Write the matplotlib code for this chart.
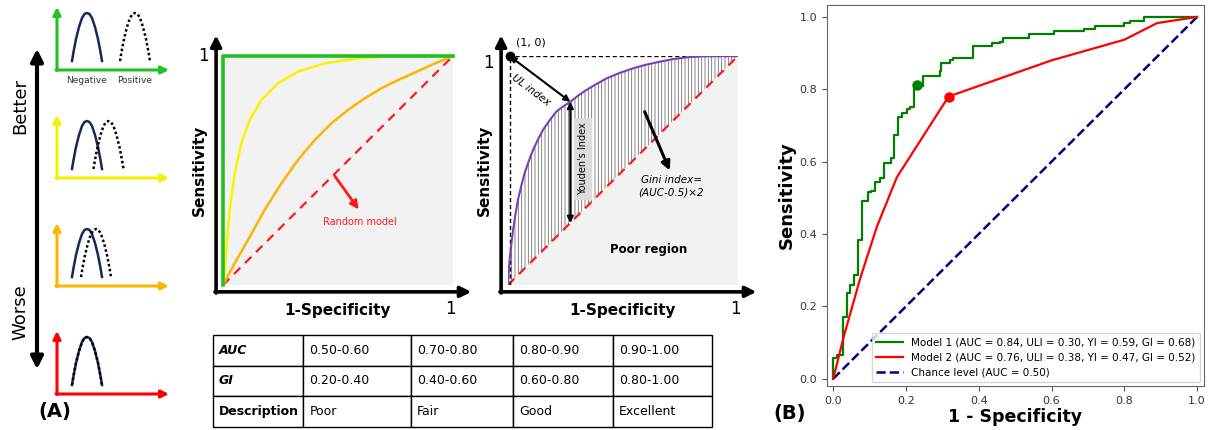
import matplotlib
matplotlib.use("Agg")
import matplotlib.pyplot as plt
from matplotlib.patches import Rectangle

# ---------------- Datos ----------------
# Panel (A): distribuciones (forma de la joroba) y centros de la clase positiva
joroba_dx = [-1.5, -1.35, -1.1, -0.8, -0.5, -0.25, 0, 0.25, 0.5, 0.8, 1.1, 1.35, 1.5]
joroba_h = [0, 0.9, 2.2, 3.4, 4.3, 4.7, 4.8, 4.7, 4.3, 3.4, 2.2, 0.9, 0]
centro_negativo = 3.0
centros_positivo = [7.8, 5.15, 3.9, 3.0]
colores_mini = ["#22c022", "#f5f000", "#ffb400", "#ff0000"]

# Panel (A): curvas ROC conceptuales
amarilla_x = [0, 0.003, 0.014, 0.029, 0.051, 0.08, 0.116, 0.167, 0.239, 0.326, 0.442, 0.587, 0.761, 1.0]
amarilla_y = [0, 0.007, 0.153, 0.328, 0.488, 0.619, 0.72, 0.808, 0.881, 0.932, 0.968, 0.99, 1.0, 1.0]
naranja_x = [0, 0.051, 0.109, 0.181, 0.254, 0.326, 0.399, 0.471, 0.543, 0.616, 0.688, 0.761, 0.833, 0.906, 1.0]
naranja_y = [0, 0.095, 0.197, 0.328, 0.444, 0.546, 0.633, 0.706, 0.764, 0.815, 0.859, 0.895, 0.927, 0.961, 1.0]
morada_x = [0, 0.003, 0.007, 0.014, 0.022, 0.032, 0.043, 0.057, 0.072, 0.09, 0.109, 0.13, 0.152,
            0.18, 0.21, 0.24, 0.271, 0.305, 0.341, 0.385, 0.428, 0.485, 0.543, 0.6, 0.659,
            0.715, 0.775, 0.83, 0.877, 1.0]
morada_y = [0, 0.055, 0.109, 0.175, 0.24, 0.306, 0.371, 0.43, 0.488, 0.54, 0.59, 0.635, 0.677,
            0.718, 0.757, 0.78, 0.80, 0.827, 0.852, 0.878, 0.902, 0.926, 0.946, 0.962, 0.975,
            0.986, 0.994, 0.998, 1.0, 1.0]
punto_youden = (0.271, 0.80)

# Tabla
tabla_filas = [
    ["AUC", "0.50-0.60", "0.70-0.80", "0.80-0.90", "0.90-1.00"],
    ["GI", "0.20-0.40", "0.40-0.60", "0.60-0.80", "0.80-1.00"],
    ["Description", "Poor", "Fair", "Good", "Excellent"],
]
tabla_anchos = [90, 108, 102, 100, 99]

# Panel (B): curvas ROC de los modelos
m1_fpr = [0, 0, 0.01, 0.028, 0.038, 0.047, 0.056, 0.067, 0.078, 0.095,
          0.105, 0.115, 0.13, 0.141, 0.16, 0.168, 0.178, 0.189, 0.202, 0.21,
          0.221, 0.228, 0.246, 0.294, 0.297, 0.32, 0.33, 0.383, 0.436, 0.459,
          0.468, 0.537, 0.607, 0.688, 0.72, 0.798, 0.816, 0.853, 1.0]
m1_tpr = [0, 0.057, 0.066, 0.172, 0.237, 0.26, 0.287, 0.384, 0.49, 0.515,
          0.52, 0.545, 0.555, 0.596, 0.61, 0.675, 0.723, 0.734, 0.746, 0.75,
          0.80, 0.81, 0.838, 0.85, 0.872, 0.882, 0.886, 0.92, 0.927, 0.932,
          0.943, 0.952, 0.96, 0.967, 0.975, 0.982, 0.99, 1.0, 1.0]
m2_fpr = [0, 0.03, 0.075, 0.12, 0.175, 0.317, 0.6, 0.8, 0.89, 1.0]
m2_tpr = [0, 0.12, 0.28, 0.42, 0.557, 0.78, 0.88, 0.937, 0.983, 1.0]
m1_optimo = (0.231, 0.812)
m2_optimo = (0.317, 0.78)
etiquetas = [
    "Model 1 (AUC = 0.84, ULI = 0.30, YI = 0.59, GI = 0.68)",
    "Model 2 (AUC = 0.76, ULI = 0.38, YI = 0.47, GI = 0.52)",
    "Chance level (AUC = 0.50)",
]

plt.rcParams["hatch.linewidth"] = 0.55

W, H = 1208, 430
fig = plt.figure(figsize=(W / 100, H / 100), dpi=100)


def rect(x0, y_top, w, h):
    # caja en pixeles -> fraccion de figura
    return [x0 / W, 1 - (y_top + h) / H, w / W, h / H]


# capa de fondo en pixeles para flechas/textos sueltos
bg = fig.add_axes([0, 0, 1, 1])
bg.set_xlim(0, W)
bg.set_ylim(H, 0)
bg.axis("off")

bg.annotate("", xy=(37, 46), xytext=(37, 372),
            arrowprops=dict(arrowstyle="<|-|>", color="black", lw=3, mutation_scale=18))
bg.text(20, 106, "Better", rotation=90, ha="center", va="center", fontsize=13)
bg.text(20, 312, "Worse", rotation=90, ha="center", va="center", fontsize=13)
bg.text(55, 412, "(A)", ha="center", va="center", fontsize=14, fontweight="bold")
bg.text(790, 414, "(B)", ha="center", va="center", fontsize=14, fontweight="bold")

# ---------------- Mini graficas de distribuciones ----------------
bases = [70, 178, 286, 394]
for base, c_pos, col in zip(bases, centros_positivo, colores_mini):
    ax = fig.add_axes(rect(57, base - 62, 112, 62))
    ax.set_xlim(0, 11.2)
    ax.set_ylim(0, 6.2)
    ax.axis("off")
    ax.annotate("", xy=(0, 6.3), xytext=(0, -0.05), annotation_clip=False,
                arrowprops=dict(arrowstyle="-|>", color=col, lw=2.2, mutation_scale=11,
                                shrinkA=0, shrinkB=0))
    ax.annotate("", xy=(11.2, 0), xytext=(-0.1, 0), annotation_clip=False,
                arrowprops=dict(arrowstyle="-|>", color=col, lw=2.2, mutation_scale=11,
                                shrinkA=0, shrinkB=0))
    xs = [centro_negativo + d for d in joroba_dx]
    ys = [0.9 + h for h in joroba_h]
    ax.plot(xs, ys, color="#14285a", lw=1.8, clip_on=False)
    xp = [c_pos + d for d in joroba_dx]
    ax.plot(xp, ys, color="black", lw=1.8, linestyle=(0, (1, 1)), clip_on=False)
    if base == 70:
        ax.text(centro_negativo, -1.0, "Negative", ha="center", va="center", fontsize=6.5,
                color="#333333")
        ax.text(c_pos, -1.0, "Positive", ha="center", va="center", fontsize=6.5,
                color="#333333")


def ejes_diagrama(ax):
    ax.set_xlim(0, 1)
    ax.set_ylim(0, 1)
    ax.axis("off")
    ax.annotate("", xy=(-0.03, 1.09), xytext=(-0.03, -0.035), annotation_clip=False,
                arrowprops=dict(arrowstyle="-|>", color="black", lw=2.6, mutation_scale=16,
                                shrinkA=0, shrinkB=0))
    ax.annotate("", xy=(1.08, -0.03), xytext=(-0.035, -0.03), annotation_clip=False,
                arrowprops=dict(arrowstyle="-|>", color="black", lw=2.6, mutation_scale=16,
                                shrinkA=0, shrinkB=0))
    ax.text(0.496, -0.11, "1-Specificity", ha="center", va="center", fontsize=11,
            fontweight="bold")
    ax.text(-0.104, 0.5, "Sensitivity", rotation=90, ha="center", va="center", fontsize=11,
            fontweight="bold")
    ax.text(0.987, -0.105, "1", ha="center", va="center", fontsize=12)


# ---------------- Diagrama 1 ----------------
ax1 = fig.add_axes(rect(223, 56, 230, 229))
ejes_diagrama(ax1)
ax1.text(-0.087, 1.0, "1", ha="center", va="center", fontsize=12)
ax1.add_patch(Rectangle((0, 0), 1, 1, facecolor="#f2f2f2", edgecolor="none", zorder=0))
ax1.plot([0, 1], [0, 1], color="#ff1a1a", lw=1.6, dashes=(4, 3), zorder=2)
ax1.plot(naranja_x, naranja_y, color="#ffb400", lw=1.8, zorder=3)
ax1.plot(amarilla_x, amarilla_y, color="#f8f400", lw=1.8, zorder=3)
ax1.plot([0, 0, 1], [0, 1, 1], color="#22c022", lw=2.6, zorder=4, clip_on=False)
ax1.annotate("", xy=(0.59, 0.33), xytext=(0.486, 0.476),
             arrowprops=dict(arrowstyle="-|>", color="#ff1a1a", lw=2, mutation_scale=12,
                             shrinkA=0, shrinkB=0))
ax1.text(0.594, 0.275, "Random model", color="#ff1a1a", ha="center", va="center", fontsize=7)

# ---------------- Diagrama 2 ----------------
ax2 = fig.add_axes(rect(508, 56, 230, 229))
ejes_diagrama(ax2)
ax2.text(-0.087, 0.97, "1", ha="center", va="center", fontsize=12)
ax2.fill_between([0, 1], [0, 1], [0, 0], facecolor="#f2f2f2", edgecolor="none", zorder=0)
ax2.fill_between(morada_x, morada_y, morada_x, facecolor="white", edgecolor="#666666",
                 hatch="|||||", lw=0, zorder=1)
ax2.plot([0, 1], [0, 1], color="#ff1a1a", lw=1.6, dashes=(4, 3), zorder=3)
ax2.plot(morada_x, morada_y, color="#7b3fb5", lw=1.5, zorder=4)
ax2.plot([0, 1], [1, 1], color="black", lw=1, dashes=(3, 2), zorder=3)
ax2.plot([0.007, 0.007], [0, 1], color="black", lw=1, dashes=(3, 2), zorder=3)
ax2.plot([0.007], [1.0], "o", color="black", markersize=6, zorder=5, clip_on=False)
ax2.text(0.1, 1.06, "(1, 0)", ha="center", va="center", fontsize=8)
ax2.annotate("", xy=punto_youden, xytext=(0.007, 1.0),
             arrowprops=dict(arrowstyle="<|-|>", color="black", lw=1.5, mutation_scale=9,
                             shrinkA=0, shrinkB=0))
ax2.text(0.1, 0.85, "UL index", rotation=-37, ha="center", va="center", fontsize=7.5,
         style="italic")
ax2.annotate("", xy=(punto_youden[0], punto_youden[0]), xytext=punto_youden,
             arrowprops=dict(arrowstyle="<|-|>", color="black", lw=1.5, mutation_scale=9,
                             shrinkA=0, shrinkB=0), zorder=6)
ax2.text(0.326, 0.55, "Youden's Index", rotation=90, ha="center", va="center", fontsize=7,
         zorder=6, bbox=dict(boxstyle="square,pad=0.45", facecolor="#dcdcdc", edgecolor="none"))
ax2.annotate("", xy=(0.703, 0.5), xytext=(0.594, 0.757),
             arrowprops=dict(arrowstyle="-|>", color="black", lw=2.2, mutation_scale=13,
                             shrinkA=0, shrinkB=0))
ax2.text(0.71, 0.43, "Gini index=\n(AUC-0.5)×2", ha="center", va="center", fontsize=7.5,
         style="italic", linespacing=1.3)
ax2.text(0.613, 0.153, "Poor region", ha="center", va="center", fontsize=8.5,
         fontweight="bold")

# ---------------- Tabla ----------------
axt = fig.add_axes(rect(213, 335, 499, 92))
axt.axis("off")
total = sum(tabla_anchos)
tbl = axt.table(cellText=tabla_filas, colWidths=[a / total for a in tabla_anchos],
                cellLoc="left", bbox=[0, 0, 1, 1])
tbl.auto_set_font_size(False)
for (r, c), celda in tbl.get_celld().items():
    celda.set_linewidth(1)
    celda.PAD = 0.06
    celda.get_text().set_fontsize(9)
    if c == 0:
        celda.get_text().set_fontweight("bold")
        if r < 2:
            celda.get_text().set_fontstyle("italic")

# ---------------- Panel (B) ----------------
axb = fig.add_axes(rect(827, 5, 377, 381))
axb.plot([0, 1], [0, 1], color="navy", lw=1.8, linestyle="--", label=etiquetas[2], zorder=2)
axb.plot(m1_fpr, m1_tpr, color="green", lw=1.6, drawstyle="steps-post", label=etiquetas[0],
         zorder=6)
axb.plot(m2_fpr, m2_tpr, color="red", lw=1.6, label=etiquetas[1], zorder=6)
axb.plot([m1_optimo[0]], [m1_optimo[1]], "o", color="green", markersize=6.5, zorder=7)
axb.plot([m2_optimo[0]], [m2_optimo[1]], "o", color="red", markersize=6.5, zorder=7)
axb.set_xlim(-0.017, 1.019)
axb.set_ylim(-0.02, 1.033)
axb.set_xticks([0, 0.2, 0.4, 0.6, 0.8, 1.0])
axb.set_yticks([0, 0.2, 0.4, 0.6, 0.8, 1.0])
axb.tick_params(labelsize=8, labelcolor="#333333", color="#555555")
for s in axb.spines.values():
    s.set_color("#666666")
axb.set_xlabel("1 - Specificity", fontsize=12.5, fontweight="bold", labelpad=2)
axb.set_ylabel("Sensitivity", fontsize=13, fontweight="bold", labelpad=3)
h, l = axb.get_legend_handles_labels()
leg = axb.legend([h[1], h[2], h[0]], [l[1], l[2], l[0]], loc="lower right", fontsize=7.5,
                 handlelength=2.6, borderaxespad=0.4)
leg.set_zorder(4)

fig.savefig("out.png", dpi=100)
